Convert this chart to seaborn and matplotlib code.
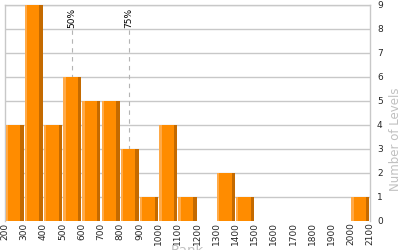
import matplotlib
matplotlib.use("Agg")
import matplotlib.pyplot as plt
import seaborn as sns
import numpy as np
import pandas as pd
from matplotlib.patches import Rectangle

# Data
bin_starts = [200, 300, 400, 500, 600, 700, 800, 900, 1000, 1100, 1200, 1300, 1400,
              1500, 1600, 1700, 1800, 1900, 2000]
counts = [4, 9, 4, 6, 5, 5, 3, 1, 4, 1, 0, 2, 1, 0, 0, 0, 0, 0, 1]
bin_edges = list(range(200, 2101, 100))
percentile_labels = ["50%", "75%"]
percentile_values = [550, 845]
y_ticks = list(range(0, 10))

sns.set_style("white")
plt.rcParams['font.family'] = ['DejaVu Sans']

fig = plt.figure(figsize=(4, 2.5), dpi=100)
ax = fig.add_axes([0.0125, 0.116, 0.9125, 0.864])

df = pd.DataFrame({"rank": [b + 50 for b in bin_starts], "n": counts})
sns.histplot(data=df, x="rank", weights="n", bins=bin_edges, ax=ax,
             color="#FF8C00", alpha=1, edgecolor="none", linewidth=0,
             shrink=0.94, zorder=3)

# stripes on bars
for p in list(ax.patches):
    x0, w, h = p.get_x(), p.get_width(), p.get_height()
    if h <= 0:
        continue
    ax.add_patch(Rectangle((x0, 0), w * 0.13, h, facecolor="#FFAA48",
                           edgecolor="none", zorder=4))
    ax.add_patch(Rectangle((x0 + w * 0.81, 0), w * 0.19, h, facecolor="#C46A00",
                           edgecolor="none", zorder=4))

ax.set_xlim(200, 2100)
ax.set_ylim(0, 9)

# grid
for yv in y_ticks[1:]:
    ax.axhline(yv, color="#C8C8C8", lw=1, zorder=1)

# percentile lines
for lab, v in zip(percentile_labels, percentile_values):
    ax.plot([v, v], [0, 8.0], color="#B4B4B4", lw=0.8, ls=(0, (4, 4)), zorder=2)
    ax.text(v, 8.05, lab, rotation=90, ha="center", va="bottom", fontsize=6.5,
            color="black")

ax.yaxis.tick_right()
ax.yaxis.set_label_position("right")
ax.set_yticks(y_ticks)
ax.set_xticks(bin_edges)
ax.set_xticklabels([str(b) for b in bin_edges], rotation=90, fontsize=6.5)
ax.tick_params(axis="y", labelsize=6.5, length=0, pad=5)
ax.tick_params(axis="x", length=0, pad=1)
ax.set_xlabel("Rank", color="#C0C0C0", fontsize=9.5, labelpad=-1)
ax.set_ylabel("Number of Levels", color="#C0C0C0", fontsize=8.5, labelpad=4)
ax.yaxis.set_label_coords(1.052, 0.38)

for s in ["left", "right", "top"]:
    ax.spines[s].set_color("#C8C8C8")
    ax.spines[s].set_linewidth(1)
ax.spines["bottom"].set_visible(False)

fig.savefig("out.png", dpi=100)
